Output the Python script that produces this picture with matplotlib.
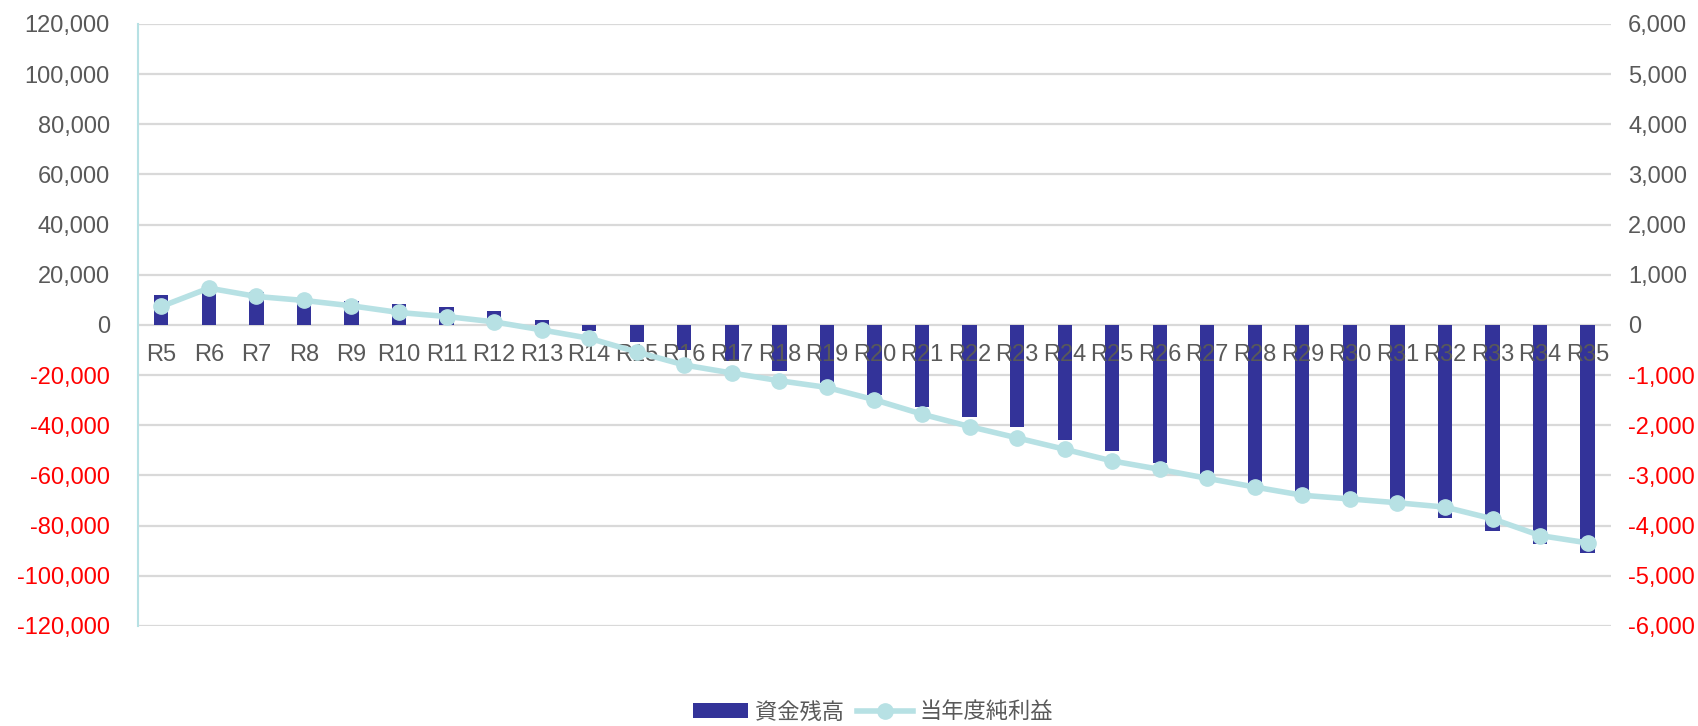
import numpy as np
import matplotlib
matplotlib.use('Agg')
import matplotlib.pyplot as plt
from matplotlib.ticker import FuncFormatter

plt.rcParams['font.family'] = ['Liberation Sans', 'Noto Sans CJK JP', 'DejaVu Sans']

# Years and values
years = ['R%d' % n for n in range(5, 36)]
fund_balance = [12000, 15500, 13000, 11000, 9500, 8300, 7200, 5700, 2100, -2400,
                -6700, -10200, -14500, -18500, -23200, -27900, -32800, -36700,
                -40800, -46000, -50400, -55100, -59500, -64000, -67900, -69500,
                -71000, -76900, -82300, -87300, -90900]
net_income = [367, 733, 567, 487, 380, 247, 167, 60, -100, -267,
              -540, -800, -960, -1113, -1247, -1493, -1780, -2027, -2253, -2480,
              -2713, -2880, -3060, -3233, -3397, -3470, -3547, -3633, -3867,
              -4200, -4347]

bar_color = '#333399'
line_color = '#B7E1E4'
text_gray = '#595959'
grid_gray = '#D9D9D9'

x = np.arange(len(years))

fig = plt.figure(figsize=(16.98, 7.26), dpi=100)
ax = fig.add_axes([0.081, 0.138, 0.868, 0.829])
ax2 = ax.twinx()

bars = ax.bar(x, fund_balance, width=0.3, color=bar_color, zorder=2, label='資金残高')
line, = ax2.plot(x, net_income, color=line_color, lw=4, marker='o', markersize=11,
                 label='当年度純利益', zorder=3)

ax.set_xlim(-0.5, len(years) - 0.5)
ax.set_ylim(-120000, 120000)
ax2.set_ylim(-6000, 6000)
ax.set_yticks(np.arange(-120000, 120001, 20000))
ax2.set_yticks(np.arange(-6000, 6001, 1000))

ax.yaxis.grid(True, color=grid_gray, lw=1.6)
ax.set_axisbelow(True)
# year labels are drawn over the bars
ax.xaxis.set_zorder(3)

comma = FuncFormatter(lambda v, p: '{:,.0f}'.format(v))
ax.yaxis.set_major_formatter(comma)
ax2.yaxis.set_major_formatter(comma)

# category labels sit just under the zero line
ax.set_xticks(x)
ax.set_xticklabels(years)
ax.spines['bottom'].set_position(('data', 0))
ax.tick_params(axis='x', length=0, pad=14, labelsize=17, labelcolor=text_gray)
ax.tick_params(axis='y', length=0, pad=20, labelsize=17)
ax2.tick_params(axis='y', length=0, pad=12, labelsize=17)

for a in (ax, ax2):
    for s in ['top', 'right', 'bottom', 'left']:
        a.spines[s].set_visible(False)
ax.spines['left'].set_visible(True)
ax.spines['left'].set_color(line_color)
ax.spines['left'].set_linewidth(1.5)

fig.canvas.draw()
for a in (ax, ax2):
    for lbl, val in zip(a.get_yticklabels(), a.get_yticks()):
        lbl.set_color('#FF0000' if val < 0 else text_gray)

fig.legend(handles=[bars, line], labels=['資金残高', '当年度純利益'],
           loc='lower center', bbox_to_anchor=(0.514, -0.024), ncol=2, frameon=False,
           handlelength=2.5, handletextpad=0.3, columnspacing=0.6,
           prop={'family': ['Noto Sans CJK JP'], 'size': 16}, labelcolor=text_gray)

fig.savefig('out.png', dpi=100)
